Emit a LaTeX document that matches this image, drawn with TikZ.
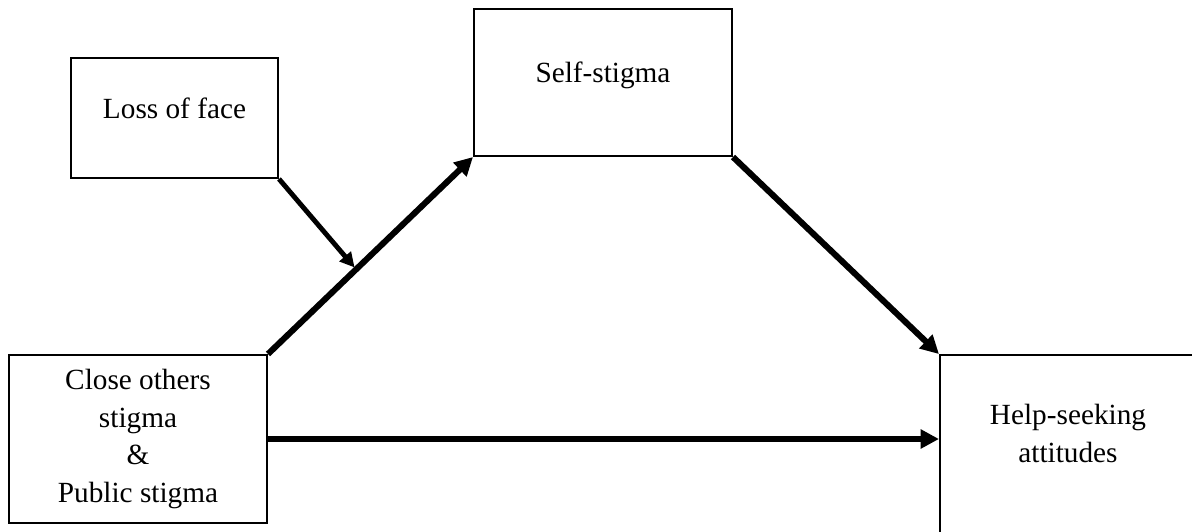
\documentclass[tikz,border=0pt]{standalone}
\usepackage{fontspec}
\setmainfont{Liberation Serif}
\usetikzlibrary{positioning}
\usetikzlibrary{arrows.meta}
\begin{document}
\begin{tikzpicture}[x=0.41pt,y=-0.41pt,
	box/.style={draw,line width=.8pt,inner sep=0pt,align=center,
	            font=\fontsize{12}{15.4}\selectfont},
	basebox/.style={box,text height=1.2ex,text depth=1.2ex},
	effect/.style={line width=2.5pt,-{Triangle[length=7.5pt,width=7.5pt]}},
	moderate/.style={line width=2pt,-{Triangle[length=6pt,width=6pt]},shorten >=1pt}]

	\clip (0,0) rectangle (1192,531);
	%boxes
	\node[basebox,minimum width=84.9pt,minimum height=49.2pt] (loss) at (174.5,118) {Loss of face};
	\node[basebox,minimum width=105.8pt,minimum height=60.3pt] (self) at (603,82.5) {Self-stigma};
	\node[box,minimum width=105.8pt,minimum height=68.9pt] (close) at (138,439)
		{Close others\\stigma\\\&\\Public stigma};
	%outcome box runs off the page
	\node[box,minimum width=105pt,minimum height=106.6pt,
	      label={[name=helptext,box,draw=none,anchor=center,yshift=-32.5pt]north:Help-seeking\\attitudes}]
	      (help) at (1068,485) {};

	%paths
	\draw[effect] (close.north east) -- coordinate[pos=.43] (modpt) (self.south west);
	\draw[effect] (self.south east) -- (help.north west);
	\draw[effect] (close.east) -- (close.east -| help.west);
	%moderator
	\draw[moderate] (loss.south east) -- (modpt);
\end{tikzpicture}
\end{document}
